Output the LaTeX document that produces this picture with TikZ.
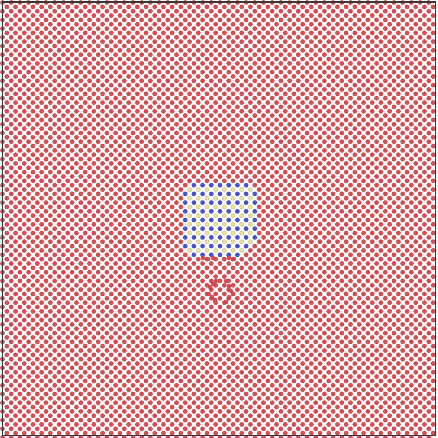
\documentclass[tikz,border=0pt]{standalone}
\usepackage{tikz}
\definecolor{MatRed}{RGB}{222,78,82}
\definecolor{MatRedDk}{RGB}{185,50,55}
\definecolor{PrBlue}{RGB}{72,84,222}
\definecolor{PrYellow}{RGB}{232,226,165}
\definecolor{FrameGray}{RGB}{55,55,55}

\begin{document}
\begin{tikzpicture}[x=1pt, y=-1pt,
      matrixatom/.style={fill=MatRed, draw=MatRedDk, line width=0.3pt},
      blueatom/.style={fill=PrBlue, draw=PrBlue!70!black, line width=0.3pt},
      yellowatom/.style={fill=PrYellow, draw=PrYellow!80!black, line width=0.3pt},
      frame/.style={draw=FrameGray, line width=1.4pt}
    ]
    \useasboundingbox (0,0) rectangle (438,438);
    \fill[white] (0,0) rectangle (438,438);

    % Lattice: rows of atoms, every other row shifted by half a spacing
    \foreach \j in {0,...,100} {
      \foreach \i in {0,...,50} {
        \pgfmathsetmacro{\x}{2.5 + (\i + 0.5*mod(\j,2))*8.7}
        \pgfmathsetmacro{\y}{2.5 + \j*4.35}
        \pgfmathtruncatemacro{\inside}{(abs(\x-219)<37) && (abs(\y-219)<37)
                                      && (abs(\x-219)+abs(\y-219)<62) ? 1 : 0}
        \pgfmathtruncatemacro{\row}{mod(\j,2)}
        \ifnum\inside=1
          \ifnum\row=0
            \filldraw[blueatom] (\x,\y) circle (2.1);
          \else
            \filldraw[yellowatom] (\x,\y) circle (2.1);
          \fi
        \else
          \ifdim\x pt<437pt
            \filldraw[matrixatom] (\x,\y) circle (2.1);
          \fi
        \fi
      }
    }

    % Displaced atoms below the precipitate
    \foreach \x/\y in {203/258, 208/259, 213/258, 224/259, 229/258, 234/259,
                       210/287, 213/284, 216/281, 209/294, 212/297, 215/300,
                       226/281, 229/286, 231/291, 229/297, 226/302} {
      \filldraw[matrixatom] (\x,\y) circle (2.0);
    }

    % Frame
    \draw[frame] (2.2,2.2) rectangle (435.3,435.3);
  \end{tikzpicture}
\end{document}
